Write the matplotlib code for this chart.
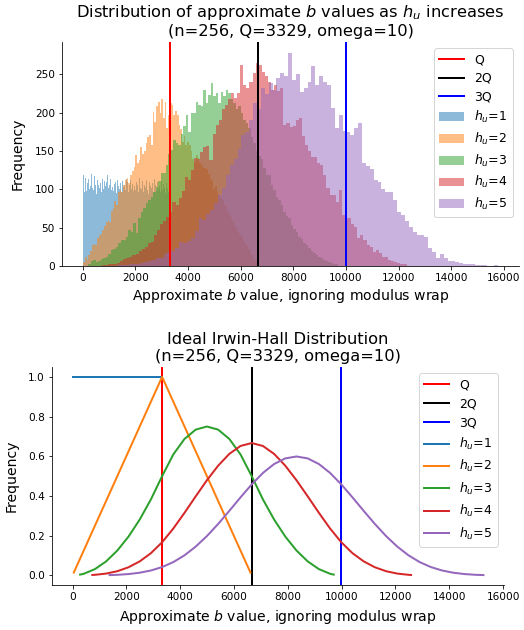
import numpy as np
from matplotlib import pyplot as plt

Q = 3329
q_lines = [Q, 2 * Q, 3 * Q]
q_labels = ['Q', '2Q', '3Q']
q_colors = ['r', 'k', 'b']
labels = ['$h_u$=1', '$h_u$=2', '$h_u$=3', '$h_u$=4', '$h_u$=5']

# histogram data ranges (min, max of sampled b) and counts in 100 bins
ranges = [(0, 3328), (20, 6600), (200, 9700), (600, 12300), (1000, 15782)]

counts_h1 = [118, 96, 103, 115, 98, 108, 113, 100, 104, 120,
             110, 101, 99, 117, 106, 94, 112, 105, 119, 102,
             108, 97, 114, 100, 111, 104, 96, 109, 118, 101,
             106, 113, 99, 103, 116, 98, 107, 110, 95, 112,
             104, 100, 115, 108, 97, 111, 103, 106, 99, 114,
             101, 109, 96, 105, 112, 100, 107, 98, 113, 104,
             99, 110, 106, 97, 115, 102, 108, 100, 111, 96,
             105, 103, 112, 99, 107, 94, 110, 104, 101, 108,
             97, 113, 102, 106, 98, 109, 100, 104, 96, 111,
             103, 99, 107, 101, 95, 108, 102, 97, 105, 100]
counts_h2 = [5, 12, 8, 14, 20, 27, 29, 27, 36, 40,
             42, 47, 52, 57, 60, 57, 72, 76, 85, 80,
             97, 99, 96, 106, 112, 115, 108, 119, 124, 129,
             145, 134, 138, 155, 146, 150, 160, 168, 171, 158,
             201, 188, 209, 214, 200, 217, 193, 214, 180, 197,
             213, 210, 197, 202, 197, 184, 178, 162, 170, 158,
             162, 158, 150, 140, 136, 145, 141, 134, 132, 128,
             128, 126, 120, 115, 112, 100, 104, 96, 92, 88,
             86, 80, 78, 70, 66, 62, 58, 52, 50, 44,
             42, 38, 34, 30, 26, 22, 18, 14, 10, 6]
counts_h3 = [2, 6, 8, 5, 6, 9, 11, 12, 15, 21,
             22, 25, 30, 34, 34, 38, 47, 44, 56, 43,
             62, 70, 76, 82, 86, 90, 96, 103, 111, 121,
             121, 132, 146, 151, 164, 160, 158, 172, 183, 197,
             175, 200, 200, 214, 210, 208, 230, 213, 223, 239,
             222, 226, 213, 227, 221, 230, 226, 218, 212, 205,
             209, 200, 190, 186, 180, 168, 160, 150, 143, 139,
             128, 119, 118, 105, 99, 90, 86, 79, 70, 65,
             62, 54, 48, 44, 38, 35, 30, 27, 24, 20,
             17, 14, 12, 10, 8, 6, 5, 4, 2, 2]
counts_h4 = [0, 1, 1, 2, 2, 3, 4, 6, 9, 10,
             12, 14, 16, 20, 22, 25, 30, 31, 40, 47,
             55, 58, 64, 70, 84, 80, 89, 98, 116, 112,
             125, 141, 139, 149, 155, 157, 138, 172, 184, 190,
             204, 210, 218, 226, 219, 225, 262, 236, 232, 240,
             252, 265, 262, 253, 248, 240, 230, 236, 228, 232,
             184, 186, 181, 183, 190, 193, 170, 158, 150, 142,
             142, 134, 132, 118, 102, 93, 93, 83, 99, 67,
             63, 63, 55, 51, 37, 40, 34, 27, 25, 18,
             21, 17, 12, 12, 8, 6, 5, 4, 3, 2]
counts_h5 = [0, 0, 1, 1, 1, 2, 2, 3, 4, 5,
             6, 8, 10, 11, 15, 18, 20, 24, 31, 30,
             33, 36, 45, 63, 60, 68, 73, 82, 92, 101,
             118, 132, 139, 152, 171, 175, 190, 213, 205, 232,
             224, 238, 230, 245, 252, 247, 278, 243, 250, 227,
             232, 240, 260, 236, 247, 240, 236, 206, 180, 197,
             176, 175, 171, 180, 186, 134, 130, 126, 112, 109,
             100, 96, 96, 86, 70, 67, 58, 51, 44, 41,
             40, 38, 24, 18, 10, 15, 11, 7, 6, 5,
             4, 3, 2, 2, 1, 1, 1, 0, 0, 1]
counts = [counts_h1, counts_h2, counts_h3, counts_h4, counts_h5]

# ideal Irwin-Hall densities, x in multiples of Q
ih_t1 = [0.0001, 0.9999]
ih_y1 = [1.0, 1.0]
ih_t2 = [0.01414, 1.0, 1.98586]
ih_y2 = [0.01414, 1.0, 0.01414]
ih_t3 = [0.0843, 0.125, 0.25, 0.375, 0.5, 0.625, 0.75, 0.875, 1.0, 1.125, 1.25, 1.375, 1.5,
         1.625, 1.75, 1.875, 2.0, 2.125, 2.25, 2.375, 2.5, 2.625, 2.75, 2.875, 2.9157]
ih_y3 = [0.0036, 0.0078, 0.0313, 0.0703, 0.125, 0.1953, 0.2813, 0.3828, 0.5, 0.6094, 0.6875,
         0.7344, 0.75, 0.7344, 0.6875, 0.6094, 0.5, 0.3828, 0.2813, 0.1953, 0.125, 0.0703,
         0.0313, 0.0078, 0.0036]
ih_t4 = [0.221, 0.25, 0.375, 0.5, 0.625, 0.75, 0.875, 1.0, 1.125, 1.25, 1.375, 1.5, 1.625,
         1.75, 1.875, 2.0, 2.125, 2.25, 2.375, 2.5, 2.625, 2.75, 2.875, 3.0, 3.125, 3.25,
         3.375, 3.5, 3.625, 3.75, 3.779]
ih_y4 = [0.0018, 0.0026, 0.0088, 0.0208, 0.0407, 0.0703, 0.1117, 0.1667, 0.2360, 0.3151,
         0.3981, 0.4792, 0.5524, 0.6120, 0.6520, 0.6667, 0.6520, 0.6120, 0.5524, 0.4792,
         0.3981, 0.3151, 0.2360, 0.1667, 0.1117, 0.0703, 0.0407, 0.0208, 0.0088, 0.0026,
         0.0018]
ih_t5 = [0.413, 0.5, 0.625, 0.75, 0.875, 1.0, 1.125, 1.25, 1.375, 1.5, 1.625, 1.75, 1.875,
         2.0, 2.125, 2.25, 2.375, 2.5, 2.625, 2.75, 2.875, 3.0, 3.125, 3.25, 3.375, 3.5,
         3.625, 3.75, 3.875, 4.0, 4.125, 4.25, 4.375, 4.5, 4.587]
ih_y5 = [0.0012, 0.0026, 0.0064, 0.0132, 0.0244, 0.0417, 0.0667, 0.1009, 0.1448, 0.1979,
         0.2587, 0.3249, 0.3929, 0.4583, 0.5160, 0.5609, 0.5893, 0.5990, 0.5893, 0.5609,
         0.5160, 0.4583, 0.3929, 0.3249, 0.2587, 0.1979, 0.1448, 0.1009, 0.0667, 0.0417,
         0.0244, 0.0132, 0.0064, 0.0026, 0.0012]
ih_t = [ih_t1, ih_t2, ih_t3, ih_t4, ih_t5]
ih_y = [ih_y1, ih_y2, ih_y3, ih_y4, ih_y5]

plt.rcParams['xtick.labelsize'] = 10.5
plt.rcParams['ytick.labelsize'] = 10.5
plt.rcParams['axes.labelsize'] = 14
plt.rcParams['axes.titlesize'] = 16.2
plt.rcParams['legend.fontsize'] = 12.5

fig = plt.figure(figsize=(524 / 72, 630 / 72), dpi=72)

# top: sampled distributions
ax = fig.add_axes([62 / 524, 1 - 266 / 630, 457 / 524, 224 / 630])
for x, lab, c in zip(q_lines, q_labels, q_colors):
    ax.axvline(x, color=c, lw=2, label=lab)
for i in range(5):
    lo, hi = ranges[i]
    edges = np.linspace(lo, hi, 101)
    centers = (edges[:-1] + edges[1:]) / 2
    ax.hist(centers, bins=edges, weights=counts[i], alpha=0.5, color='C%d' % i, label=labels[i])
ax.set_title('Distribution of approximate $b$ values as $h_u$ increases\n(n=256, Q=3329, omega=10)')
ax.set_xlabel('Approximate $b$ value, ignoring modulus wrap')
ax.set_ylabel('Frequency', labelpad=10)
ax.legend(loc='upper right', labelspacing=0.45)
ax.spines['top'].set_visible(False)
ax.spines['right'].set_visible(False)

# bottom: ideal Irwin-Hall
ax2 = fig.add_axes([52 / 524, 1 - 585 / 630, 452 / 524, 218 / 630])
for x, lab, c in zip(q_lines, q_labels, q_colors):
    ax2.axvline(x, color=c, lw=2, label=lab)
for i in range(5):
    ax2.plot(np.array(ih_t[i]) * Q, ih_y[i], lw=2, color='C%d' % i, label=labels[i])
ax2.set_title('Ideal Irwin-Hall Distribution\n(n=256, Q=3329, omega=10)')
ax2.set_xlabel('Approximate $b$ value, ignoring modulus wrap', labelpad=6)
ax2.set_ylabel('Frequency', labelpad=10)
ax2.legend(loc='upper right')
ax2.spines['top'].set_visible(False)
ax2.spines['right'].set_visible(False)

plt.savefig('out.png', dpi=72)
